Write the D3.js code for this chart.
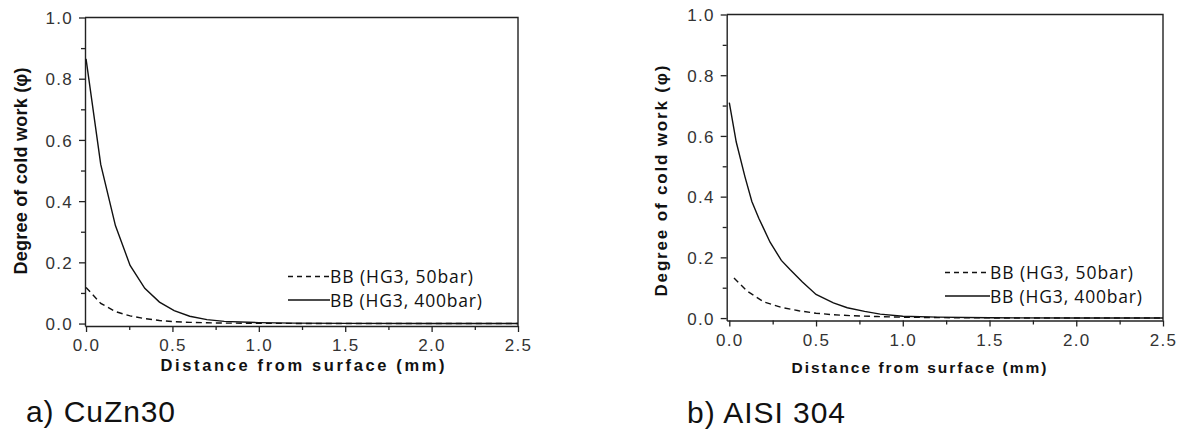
<!DOCTYPE html>
<html>
<head>
<meta charset="utf-8">
<script src="https://cdn.jsdelivr.net/npm/d3@7"></script>
<style>
  body { margin: 0; background: #fff; }
  svg { display: block; }
</style>
</head>
<body>
<svg id="fig" width="1180" height="432"></svg>
<script>
// data (depth in mm, degree of cold work)
const depthA50 = [0, 0.085, 0.17, 0.255, 0.34, 0.425, 0.51, 0.6, 0.7, 0.8, 1.0, 1.2, 1.5, 2.0, 2.5];
const valueA50 = [0.118, 0.066, 0.039, 0.025, 0.016, 0.01, 0.006, 0.004, 0.0025, 0.0015, 0.0008, 0.0004, 0.0002, 0, 0];
const depthA400 = [0, 0.085, 0.17, 0.255, 0.34, 0.425, 0.51, 0.6, 0.7, 0.8, 1.0, 1.2, 1.5, 2.0, 2.5];
const valueA400 = [0.865, 0.52, 0.32, 0.19, 0.115, 0.07, 0.042, 0.024, 0.013, 0.007, 0.003, 0.0015, 0.0005, 0, 0];

const depthB50 = [0.027, 0.1, 0.2, 0.3, 0.4, 0.5, 0.6, 0.7, 0.85, 1.0, 1.2, 1.5, 2.0, 2.5];
const valueB50 = [0.132, 0.09, 0.053, 0.035, 0.024, 0.016, 0.011, 0.008, 0.005, 0.003, 0.0015, 0.0005, 0, 0];
const depthB400 = [0, 0.04, 0.09, 0.13, 0.17, 0.235, 0.3, 0.35, 0.42, 0.5, 0.6, 0.68, 0.78, 0.87, 1.0, 1.2, 1.5, 2.0, 2.5];
const valueB400 = [0.71, 0.58, 0.466, 0.384, 0.329, 0.25, 0.19, 0.16, 0.12, 0.078, 0.05, 0.034, 0.022, 0.013, 0.006, 0.003, 0.001, 0, 0];

const xTicks = [0, 0.5, 1.0, 1.5, 2.0, 2.5];
const xMinor = [0.25, 0.75, 1.25, 1.75, 2.25];
const yTicks = [0, 0.2, 0.4, 0.6, 0.8, 1.0];
const yMinor = [0.1, 0.3, 0.5, 0.7, 0.9];
const seriesNames = ['BB (HG3, 50bar)', 'BB (HG3, 400bar)'];

const panels = [
  { caption: 'a) CuZn30', x: [85, 518], y: [326, 17.5], xMin: -0.006,
    s50: [depthA50, valueA50], s400: [depthA400, valueA400],
    yLab: { x: 27, y: 171, size: 18, len: 207 }, xLab: { x: 302.5, y: 370.5, size: 16.5, len: 284 },
    legend: { x0: 288, x1: 330, y: 276.5 }, cap: { x: 26, y: 422, len: 149 } },
  { caption: 'b) AISI 304', x: [726.7, 1163], y: [320.5, 14.5], xMin: -0.015,
    s50: [depthB50, valueB50], s400: [depthB400, valueB400],
    yLab: { x: 667, y: 181, size: 17, len: 231 }, xLab: { x: 919, y: 372.5, size: 15.5, len: 255 },
    legend: { x0: 945, x1: 990, y: 272.5 }, cap: { x: 687, y: 423, len: 158 } }
];

const svg = d3.select('#fig');
svg.append('rect').attr('width', 1180).attr('height', 432).attr('fill', '#fff');

panels.forEach(p => {
  const g = svg.append('g');
  const xScale = d3.scaleLinear().domain([p.xMin, 2.5]).range(p.x);
  const yScale = d3.scaleLinear().domain([-0.008, 1.0]).range(p.y);

  // frame top + right
  g.append('path')
    .attr('d', `M${p.x[0]},${p.y[1]}H${p.x[1]}V${p.y[0]}`)
    .attr('fill', 'none').attr('stroke', '#222').attr('stroke-width', 1.4);

  // minor ticks
  g.append('g').attr('transform', `translate(0,${p.y[0]})`)
    .call(d3.axisBottom(xScale).tickValues(xMinor).tickSize(4).tickFormat(''))
    .call(a => a.select('.domain').remove());
  g.append('g').attr('transform', `translate(${p.x[0]},0)`)
    .call(d3.axisLeft(yScale).tickValues(yMinor).tickSize(4).tickFormat(''))
    .call(a => a.select('.domain').remove());

  // major axes
  const xAxis = g.append('g').attr('transform', `translate(0,${p.y[0]})`)
    .call(d3.axisBottom(xScale).tickValues(xTicks).tickSize(6).tickSizeOuter(0).tickPadding(7).tickFormat(d3.format('.1f')));
  const yAxis = g.append('g').attr('transform', `translate(${p.x[0]},0)`)
    .call(d3.axisLeft(yScale).tickValues(yTicks).tickSize(6).tickSizeOuter(0).tickPadding(6).tickFormat(d3.format('.1f')));

  g.selectAll('.tick line').attr('stroke', '#222').attr('stroke-width', 1.3);
  g.selectAll('.domain').attr('stroke', '#222').attr('stroke-width', 1.4);
  [xAxis, yAxis].forEach(a => a.selectAll('text')
    .attr('font-family', 'Liberation Sans, Arial, sans-serif')
    .attr('font-size', 17).attr('fill', '#333').style('letter-spacing', '1.3px'));
  yAxis.selectAll('text').attr('dy', '0.36em');

  // curves
  const line = d3.line().x(d => xScale(d[0])).y(d => yScale(d[1]));
  const pts50 = p.s50[0].map((d, i) => [d, p.s50[1][i]]);
  const pts400 = p.s400[0].map((d, i) => [d, p.s400[1][i]]);
  g.append('path').datum(pts50).attr('d', line)
    .attr('fill', 'none').attr('stroke', '#111').attr('stroke-width', 1.4).attr('stroke-dasharray', '6,4');
  g.append('path').datum(pts400).attr('d', line)
    .attr('fill', 'none').attr('stroke', '#111').attr('stroke-width', 1.4);

  // legend
  seriesNames.forEach((name, i) => {
    const ly = p.legend.y + i * 23.5;
    g.append('line')
      .attr('x1', p.legend.x0).attr('x2', p.legend.x1).attr('y1', ly).attr('y2', ly)
      .attr('stroke', '#111').attr('stroke-width', 1.3)
      .attr('stroke-dasharray', i === 0 ? '5,4' : null);
    g.append('text')
      .attr('x', p.legend.x1).attr('y', ly + 6.5)
      .attr('font-family', 'Open Sans, sans-serif').attr('font-size', 17.5).attr('fill', '#111')
      .attr('textLength', i === 0 ? 143 : 152).attr('lengthAdjust', 'spacing')
      .text(name);
  });

  // axis titles
  g.append('text')
    .attr('transform', `translate(${p.yLab.x},${p.yLab.y}) rotate(-90)`)
    .attr('text-anchor', 'middle')
    .attr('font-family', 'Liberation Sans, Arial, sans-serif').attr('font-weight', 'bold')
    .attr('font-size', p.yLab.size).attr('fill', '#111')
    .attr('textLength', p.yLab.len).attr('lengthAdjust', 'spacing')
    .text('Degree of cold work (φ)');
  g.append('text')
    .attr('x', p.xLab.x).attr('y', p.xLab.y)
    .attr('text-anchor', 'middle')
    .attr('font-family', 'Liberation Sans, Arial, sans-serif').attr('font-weight', 'bold')
    .attr('font-size', p.xLab.size).attr('fill', '#111')
    .attr('textLength', p.xLab.len).attr('lengthAdjust', 'spacing')
    .text('Distance from surface (mm)');

  // caption
  g.append('text')
    .attr('x', p.cap.x).attr('y', p.cap.y)
    .attr('font-family', 'Liberation Sans, Arial, sans-serif')
    .attr('font-size', 30).attr('fill', '#111')
    .attr('textLength', p.cap.len).attr('lengthAdjust', 'spacing')
    .text(p.caption);
});
</script>
</body>
</html>
